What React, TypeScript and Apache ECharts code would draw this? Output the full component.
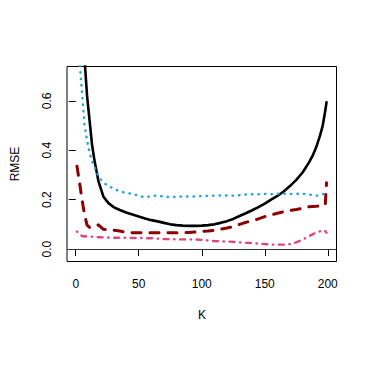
import React, { useEffect, useRef } from "react";
import * as echarts from "echarts";

const K = [1, 3, 5, 7, 9, 11, 13, 15, 18, 22, 26, 30, 35, 40, 45, 50, 55, 60, 65, 70, 75, 80, 85, 90, 95, 100, 105, 110, 115, 120, 125, 130, 135, 140, 145, 150, 155, 160, 165, 170, 175, 180, 185, 188, 191, 194, 196, 198, 199];

const solidBlack = [1.6, 1.2, 0.95, 0.77, 0.62, 0.52, 0.42, 0.355, 0.275, 0.212, 0.186, 0.17, 0.158, 0.148, 0.14, 0.132, 0.124, 0.117, 0.112, 0.106, 0.1, 0.097, 0.095, 0.094, 0.094, 0.095, 0.097, 0.1, 0.106, 0.113, 0.122, 0.134, 0.145, 0.157, 0.17, 0.184, 0.2, 0.215, 0.233, 0.255, 0.28, 0.31, 0.35, 0.378, 0.415, 0.462, 0.5, 0.56, 0.594];

const dottedBlue = [0.9, 0.76, 0.634, 0.5, 0.44, 0.39, 0.355, 0.33, 0.295, 0.268, 0.255, 0.245, 0.233, 0.228, 0.223, 0.216, 0.209, 0.214, 0.217, 0.212, 0.21, 0.211, 0.213, 0.213, 0.213, 0.214, 0.215, 0.216, 0.217, 0.217, 0.216, 0.218, 0.221, 0.222, 0.222, 0.223, 0.222, 0.224, 0.224, 0.223, 0.224, 0.224, 0.221, 0.218, 0.216, 0.218, 0.222, 0.226, 0.228];

const dashedRed = [0.335, 0.27, 0.2, 0.14, 0.097, 0.088, 0.087, 0.09, 0.098, 0.08, 0.077, 0.076, 0.073, 0.068, 0.066, 0.066, 0.067, 0.066, 0.066, 0.067, 0.066, 0.066, 0.066, 0.067, 0.069, 0.071, 0.073, 0.076, 0.08, 0.085, 0.091, 0.1, 0.108, 0.115, 0.122, 0.131, 0.138, 0.145, 0.151, 0.156, 0.16, 0.165, 0.171, 0.172, 0.173, 0.175, 0.176, 0.178, 0.268];

const dotDashPink = [0.071, 0.06, 0.053, 0.051, 0.052, 0.052, 0.05, 0.049, 0.048, 0.047, 0.047, 0.046, 0.046, 0.046, 0.045, 0.045, 0.044, 0.044, 0.042, 0.04, 0.04, 0.039, 0.039, 0.039, 0.039, 0.037, 0.035, 0.032, 0.031, 0.031, 0.029, 0.027, 0.025, 0.024, 0.022, 0.02, 0.018, 0.018, 0.018, 0.02, 0.027, 0.038, 0.052, 0.06, 0.067, 0.072, 0.077, 0.072, 0.066];

const xTicks = [0, 50, 100, 150, 200];
const yTicks = [0, 0.2, 0.4, 0.6];
const xTitle = "K";
const yTitle = "RMSE";

const FONT = "'Liberation Sans', Arial, Helvetica, sans-serif";

function pairs(vals: number[]) {
  return K.map((k, i) => [k, vals[i]]);
}

export default function App() {
  const ref = useRef<HTMLDivElement>(null);
  useEffect(() => {
    if (!ref.current) return;
    const chart = echarts.init(ref.current, null, { renderer: "svg" });
    const lineBase = {
      type: "line",
      showSymbol: false,
      symbol: "none",
      clip: true,
      silent: true,
    };
    chart.setOption({
      animation: false,
      backgroundColor: "#ffffff",
      textStyle: { fontFamily: FONT },
      grid: {
        left: 67,
        top: 66.5,
        right: 37.5,
        bottom: 112.5,
        show: true,
        borderColor: "#000000",
        borderWidth: 1,
        backgroundColor: "transparent",
      },
      xAxis: {
        type: "value",
        min: -6.92,
        max: 206.92,
        splitLine: { show: false },
        axisLine: { show: false },
        axisTick: {
          show: true,
          customValues: xTicks,
          length: 7,
          lineStyle: { color: "#000", width: 1 },
        },
        axisLabel: {
          customValues: xTicks,
          margin: 16,
          fontSize: 12,
          color: "#000",
          fontFamily: FONT,
        },
      },
      yAxis: {
        type: "value",
        min: -0.0504,
        max: 0.739,
        splitLine: { show: false },
        axisLine: { show: false },
        axisTick: {
          show: true,
          customValues: yTicks,
          length: 7,
          lineStyle: { color: "#000", width: 1 },
        },
        axisLabel: {
          customValues: yTicks,
          rotate: 90,
          margin: 14,
          fontSize: 12,
          color: "#000",
          fontFamily: FONT,
          formatter: (v: number) => v.toFixed(1),
        },
      },
      graphic: [
        {
          type: "text",
          x: 202,
          y: 315,
          style: {
            text: xTitle,
            fontSize: 12,
            fontFamily: FONT,
            fill: "#000",
            align: "center",
            verticalAlign: "middle",
          },
        },
        {
          type: "text",
          x: 15,
          y: 164,
          rotation: Math.PI / 2,
          style: {
            text: yTitle,
            fontSize: 12,
            fontFamily: FONT,
            fill: "#000",
            align: "center",
            verticalAlign: "middle",
          },
        },
      ],
      series: [
        {
          ...lineBase,
          name: "solid",
          data: pairs(solidBlack),
          lineStyle: { color: "#000000", width: 2.6, cap: "round", join: "round" },
          markLine: {
            silent: true,
            symbol: "none",
            label: { show: false },
            lineStyle: { color: "#333333", width: 1, type: "solid" },
            data: [{ yAxis: 0 }],
          },
        },
        {
          ...lineBase,
          name: "dotted",
          data: pairs(dottedBlue),
          lineStyle: {
            color: "#1FA6D8",
            width: 2.4,
            type: [0.5, 6],
            cap: "round",
            join: "round",
          },
        },
        {
          ...lineBase,
          name: "dashed",
          data: pairs(dashedRed),
          lineStyle: {
            color: "#8B0000",
            width: 3,
            type: [9, 9],
            cap: "round",
            join: "round",
          },
        },
        {
          ...lineBase,
          name: "dotdash",
          data: pairs(dotDashPink),
          lineStyle: {
            color: "#DF4679",
            width: 2.4,
            type: [0.5, 5.5, 5, 5.5],
            cap: "round",
            join: "round",
          },
        },
      ],
    });
    return () => chart.dispose();
  }, []);
  return (
    <div
      ref={ref}
      style={{ position: "fixed", left: 0, top: 0, width: 374, height: 374, background: "#fff" }}
    />
  );
}
